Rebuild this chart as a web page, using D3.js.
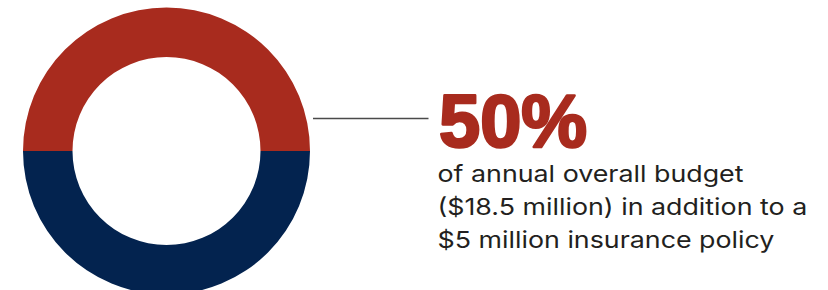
<!DOCTYPE html>
<html>
<head>
<meta charset="utf-8">
<script src="https://cdn.jsdelivr.net/npm/d3@7"></script>
<style>
  html, body { margin: 0; padding: 0; background: #fff; }
</style>
</head>
<body>
<svg id="chart"></svg>
<script>
// Data
const shares = [
    { key: "budget", value: 50 },
    { key: "other", value: 50 }
];
const shareColors = ["#a82b1e", "#03234f"];
const headline = "50%";
const captionLines = [
    "of annual overall budget",
    "($18.5 million) in addition to a",
    "$5 million insurance policy"
];

const width = 828;
const height = 290;

const svg = d3.select("#chart")
    .attr("width", width)
    .attr("height", height);

// Donut: top half red, bottom half navy
const cx = 166.5, cy = 151;
const pie = d3.pie()
    .sort(null)
    .value(d => d.value)
    .startAngle(-Math.PI / 2)
    .endAngle(Math.PI * 1.5);

const arc = d3.arc()
    .innerRadius(94)
    .outerRadius(143.5);

const color = d3.scaleOrdinal()
    .domain(shares.map(d => d.key))
    .range(shareColors);

svg.append("g")
    .attr("transform", `translate(${cx},${cy})`)
    .selectAll("path")
    .data(pie(shares))
    .join("path")
    .attr("d", arc)
    .attr("fill", d => color(d.data.key));

// Connector line
svg.append("line")
    .attr("x1", 313)
    .attr("x2", 428.5)
    .attr("y1", 118.5)
    .attr("y2", 118.5)
    .attr("stroke", "#4a4a4a")
    .attr("stroke-width", 1.6);

// Big number
svg.append("text")
    .attr("x", 439)
    .attr("y", 146.5)
    .attr("font-family", "'Liberation Sans', Arial, sans-serif")
    .attr("font-weight", 700)
    .attr("font-size", 74)
    .attr("fill", "#a82b1e")
    .attr("stroke", "#a82b1e")
    .attr("stroke-width", 2.6)
    .attr("stroke-linejoin", "round")
    .text(headline);

// Caption - the original face is a wide grotesk, so stretch lines to its width
const firstLineWidth = 306;
const caption = svg.append("g")
    .attr("transform", "translate(437.5,0)");

const lines = caption.selectAll("text")
    .data(captionLines)
    .join("text")
    .attr("x", 0)
    .attr("y", (d, i) => 182 + i * 33)
    .attr("font-family", "Inter, 'Noto Sans', sans-serif")
    .attr("font-size", 23)
    .attr("fill", "#231f20")
    .text(d => d);

const stretch = firstLineWidth / lines.node().getComputedTextLength();
caption.attr("transform", `translate(437.5,0) scale(${stretch},1)`);
</script>
</body>
</html>
